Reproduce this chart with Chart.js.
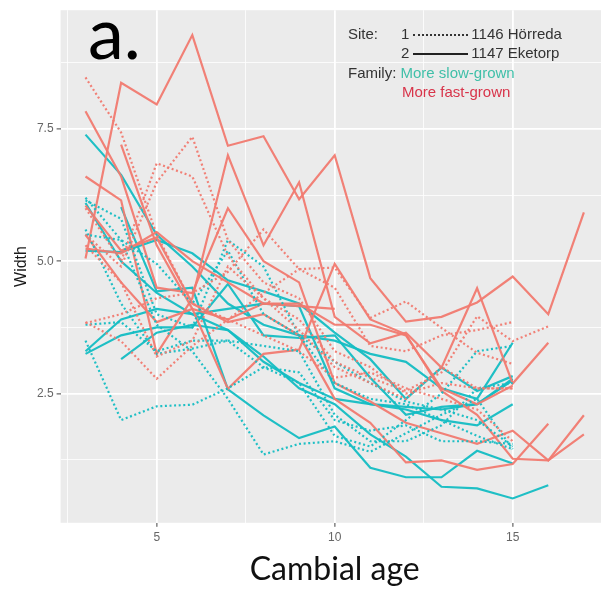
<!DOCTYPE html>
<html>
<head>
<meta charset="utf-8">
<script src="https://cdn.jsdelivr.net/npm/chart.js@4.4.1/dist/chart.umd.min.js"></script>
<style>
  html, body { margin: 0; padding: 0; background: #fff; overflow: hidden; }
  #wrap { position: relative; width: 601px; height: 590px; overflow: hidden; }
  #chart { position: absolute; left: 0; top: 0; }
  .panelTag { position: absolute; left: 88px; top: -12px; font: 72px Lato, "Liberation Sans", sans-serif; color: #000; }
  .key { position: absolute; font: 15px "Liberation Sans", Arial, sans-serif; color: #333; white-space: nowrap; line-height: 19px; }
  .sample { display: inline-block; width: 55px; vertical-align: middle; margin: 0 3px 0 4px; }
</style>
</head>
<body>
<div id="wrap">
  <canvas id="chart" width="612" height="590"></canvas>
  <div class="panelTag">a.</div>
  <div class="key" style="left:348px; top:24px;">Site:</div>
  <div class="key" style="left:401px; top:24px;">1<span class="sample" style="border-top:2px dotted #333;"></span>1146 Hörreda</div>
  <div class="key" style="left:401px; top:43px;">2<span class="sample" style="border-top:2px solid #222;"></span>1147 Eketorp</div>
  <div class="key" style="left:348px; top:63px;">Family: <span style="color:#3fbfa8">More slow-grown</span></div>
  <div class="key" style="left:402px; top:82px; color:#d8344a;">More fast-grown</div>
</div>
<script>
// cambial age (x)
const ages = [3, 4, 5, 6, 7, 8, 9, 10, 11, 12, 13, 14, 15, 16, 17];

// more fast-grown family, site 2 (1147 Eketorp), solid
const fastEketorp1 = [5.05, 8.37, 7.96, 9.27, 7.18, 7.36, 6.17, 7.0, 4.68, 3.86, 3.95, 4.22, 4.71, 4.0, 5.92];
const fastEketorp2 = [6.6, 6.15, 3.25, 4.3, 7.0, 5.3, 6.49, 3.95, 3.45, 3.65, 2.99, 4.49, 2.69, 3.46, null];
const fastEketorp3 = [7.83, 6.6, 4.5, 4.4, 6.0, 5.0, 4.6, 2.7, 2.35, 1.95, 1.75, 1.55, 1.8, 1.24, 2.09];
const fastEketorp4 = [null, 7.2, 5.3, 4.1, 2.59, 3.25, 3.33, 4.95, 3.9, 3.62, 2.55, 2.1, 1.27, 1.24, 1.73];
const fastEketorp5 = [5.24, 5.15, 5.55, 5.0, 4.6, 4.2, 4.15, 4.1, null, null, null, null, null, null, null];
const fastEketorp6 = [6.05, 5.2, 5.45, 4.2, 3.85, 4.0, 3.6, 2.4, 1.95, 1.2, 1.24, 1.06, 1.17, 1.93, null];
const fastEketorp7 = [5.5, 4.6, 3.85, 4.1, 3.9, 4.2, 4.2, 3.8, 3.8, 3.6, 2.6, 2.3, 2.65, null, null];

// more fast-grown family, site 1 (1146 Hörreda), dotted
const fastHorreda1 = [8.47, 7.43, 5.5, 4.2, 3.9, 3.6, 3.3, 2.8, 2.9, 2.6, 2.4, 2.2, 1.6, null, null];
const fastHorreda2 = [5.5, 4.9, 6.49, 7.35, 5.4, 4.6, 4.3, 3.3, 3.0, 2.5, 2.7, 2.6, 2.6, null, null];
const fastHorreda3 = [6.0, 5.0, 6.85, 6.6, 5.1, 4.3, 3.9, 3.1, 2.8, 2.55, 2.9, 3.96, 3.49, 3.77, null];
const fastHorreda4 = [3.83, 4.0, 4.3, 4.4, 4.8, 5.6, 4.85, 4.88, 3.93, 4.24, 3.74, 3.27, 3.06, null, null];
const fastHorreda5 = [3.85, 3.49, 2.78, 3.4, 3.9, 4.4, 4.85, 4.5, 3.4, 3.3, 3.6, 3.7, 3.85, null, null];
const fastHorreda6 = [5.3, 4.6, 3.2, 3.5, 4.9, 4.3, 3.7, 3.0, 2.7, 2.4, 3.0, 2.6, 2.6, null, null];

// more slow-grown family, site 2, solid
const slowEketorp1 = [7.39, 6.63, 5.5, 4.9, 4.2, 3.8, 3.6, 3.5, 3.25, 3.1, 2.6, 2.4, 3.46, null, null];
const slowEketorp2 = [5.2, 5.17, 5.4, 5.15, 4.64, 4.43, 4.2, 3.65, 3.15, 2.4, 2.99, 2.55, 2.83, null, null];
const slowEketorp3 = [null, 6.02, 4.43, 4.5, 2.58, 2.09, 1.66, 1.88, 1.1, 0.92, 0.92, 1.42, 1.18, null, null];
const slowEketorp4 = [6.1, 5.0, 4.4, 4.0, 3.7, 3.2, 2.6, 2.3, 1.73, 1.31, 0.74, 0.71, 0.52, 0.77, null];
const slowEketorp5 = [3.25, 3.6, 3.75, 3.75, 4.57, 3.6, 3.55, 3.6, 2.8, 2.1, 2.25, 2.3, 2.78, null, null];
const slowEketorp6 = [3.3, 3.9, 4.1, 4.0, 4.1, 4.2, 4.15, 2.6, 2.3, 2.2, 2.0, 1.9, 2.3, null, null];
const slowEketorp7 = [null, 3.15, 3.65, 3.8, 3.7, 3.1, 2.7, 2.4, 2.3, 2.25, 2.2, 2.3, 2.75, null, null];

// more slow-grown family, site 1, dotted
const slowHorreda1 = [3.5, 2.0, 2.26, 2.29, 2.6, 3.0, 2.9, 2.0, 1.8, 1.9, 1.6, 1.6, 1.55, null, null];
const slowHorreda2 = [6.2, 5.4, 3.8, 3.3, 2.4, 1.35, 1.55, 1.6, 1.4, 1.75, 2.1, 2.4, 1.45, null, null];
const slowHorreda3 = [6.15, 5.8, 4.0, 3.75, 5.4, 4.9, 3.6, 3.1, 2.7, 2.35, 2.2, 2.0, 1.5, null, null];
const slowHorreda4 = [5.6, 4.2, 3.25, 3.35, 3.5, 3.4, 3.3, 2.1, 1.6, 1.6, 1.9, 2.6, 2.7, null, null];
const slowHorreda5 = [3.8, 3.85, 3.3, 3.5, 3.5, 3.0, 2.7, 1.7, 1.5, 2.0, 2.5, 3.3, 3.4, null, null];
const slowHorreda6 = [5.5, 5.4, 4.95, 4.2, 5.2, 4.0, 3.6, 2.7, 2.4, 2.3, 2.0, 1.7, 1.45, null, null];

// axis ticks
const xMajorTicks = [5, 10, 15];
const xMinorTicks = [2.5, 7.5, 12.5, 17.5];
const yMajorTicks = [2.5, 5.0, 7.5];
const yMinorTicks = [1.25, 3.75, 6.25, 8.75];
const yTickLabels = ["2.5", "5.0", "7.5"];

const RED = "rgba(241, 122, 112, 0.95)";
const TEAL = "rgba(20, 189, 195, 0.95)";

function series(name, values, color, dotted) {
    return {
        label: name,
        data: ages.map((a, i) => ({ x: a, y: values[i] })),
        borderColor: color,
        borderWidth: 2.2,
        borderDash: dotted ? [2, 2.6] : [],
        pointRadius: 0,
        tension: 0,
        fill: false,
        spanGaps: false,
    };
}

const datasets = [
    series("fastHorreda1", fastHorreda1, RED, true),
    series("fastHorreda2", fastHorreda2, RED, true),
    series("fastHorreda3", fastHorreda3, RED, true),
    series("fastHorreda4", fastHorreda4, RED, true),
    series("fastHorreda5", fastHorreda5, RED, true),
    series("fastHorreda6", fastHorreda6, RED, true),
    series("slowHorreda1", slowHorreda1, TEAL, true),
    series("slowHorreda2", slowHorreda2, TEAL, true),
    series("slowHorreda3", slowHorreda3, TEAL, true),
    series("slowHorreda4", slowHorreda4, TEAL, true),
    series("slowHorreda5", slowHorreda5, TEAL, true),
    series("slowHorreda6", slowHorreda6, TEAL, true),
    series("fastEketorp1", fastEketorp1, RED, false),
    series("fastEketorp2", fastEketorp2, RED, false),
    series("fastEketorp3", fastEketorp3, RED, false),
    series("fastEketorp4", fastEketorp4, RED, false),
    series("fastEketorp5", fastEketorp5, RED, false),
    series("fastEketorp6", fastEketorp6, RED, false),
    series("fastEketorp7", fastEketorp7, RED, false),
    series("slowEketorp1", slowEketorp1, TEAL, false),
    series("slowEketorp2", slowEketorp2, TEAL, false),
    series("slowEketorp3", slowEketorp3, TEAL, false),
    series("slowEketorp4", slowEketorp4, TEAL, false),
    series("slowEketorp5", slowEketorp5, TEAL, false),
    series("slowEketorp6", slowEketorp6, TEAL, false),
    series("slowEketorp7", slowEketorp7, TEAL, false),
];

// grey ggplot panel
const panelBackground = {
    id: "panelBackground",
    beforeDraw(chart) {
        const { ctx, chartArea: a } = chart;
        ctx.save();
        ctx.fillStyle = "#ebebeb";
        ctx.fillRect(a.left, a.top, a.right - a.left, a.bottom - a.top);
        ctx.restore();
    },
};

const isMajor = (list, v) => list.some(t => Math.abs(t - v) < 1e-6);

const configLines = {
    type: "line",
    data: { datasets: datasets },
    options: {
        responsive: false,
        animation: false,
        layout: { padding: { top: 7, right: 3.2, left: 0, bottom: 0 } },
        plugins: { legend: { display: false }, tooltip: { enabled: false } },
        scales: {
            x: {
                type: "linear",
                min: 2.3,
                max: 17.7,
                afterBuildTicks: s => { s.ticks = xMinorTicks.concat(xMajorTicks).sort((a, b) => a - b).map(v => ({ value: v })); },
                afterFit: s => { s.height = 67.2; },
                border: { display: false },
                grid: {
                    color: "#ffffff",
                    lineWidth: c => isMajor(xMajorTicks, c.tick.value) ? 1.8 : 0.8,
                    tickColor: c => isMajor(xMajorTicks, c.tick.value) ? "#444" : "rgba(0,0,0,0)",
                    tickLength: 4,
                    tickWidth: 1,
                },
                ticks: {
                    padding: 4,
                    color: "#666",
                    font: { family: "Liberation Sans", size: 12 },
                    maxRotation: 0,
                    autoSkip: false,
                    callback: v => isMajor(xMajorTicks, v) ? String(v) : "",
                },
                title: {
                    display: true,
                    text: "Cambial age",
                    color: "#111",
                    font: { family: "Lato", size: 32 },
                    padding: { top: 0, bottom: 1 },
                },
            },
            y: {
                type: "linear",
                min: 0.06,
                max: 9.74,
                afterBuildTicks: s => { s.ticks = yMinorTicks.concat(yMajorTicks).sort((a, b) => a - b).map(v => ({ value: v })); },
                afterFit: s => { s.width = 60.6; },
                border: { display: false },
                grid: {
                    color: "#ffffff",
                    lineWidth: c => isMajor(yMajorTicks, c.tick.value) ? 1.8 : 0.8,
                    tickColor: c => isMajor(yMajorTicks, c.tick.value) ? "#444" : "rgba(0,0,0,0)",
                    tickLength: 4,
                    tickWidth: 1,
                },
                ticks: {
                    padding: 3,
                    color: "#666",
                    font: { family: "Liberation Sans", size: 12 },
                    autoSkip: false,
                    callback: v => {
                        const i = yMajorTicks.findIndex(t => Math.abs(t - v) < 1e-6);
                        return i >= 0 ? yTickLabels[i] : "";
                    },
                },
                title: {
                    display: true,
                    text: "Width",
                    color: "#1a1a1a",
                    font: { family: "Liberation Sans", size: 16 },
                    padding: { top: 12, bottom: 0 },
                },
            },
        },
    },
    plugins: [panelBackground],
};

var chartLines = new Chart(document.getElementById("chart"), configLines);
</script>
</body>
</html>
